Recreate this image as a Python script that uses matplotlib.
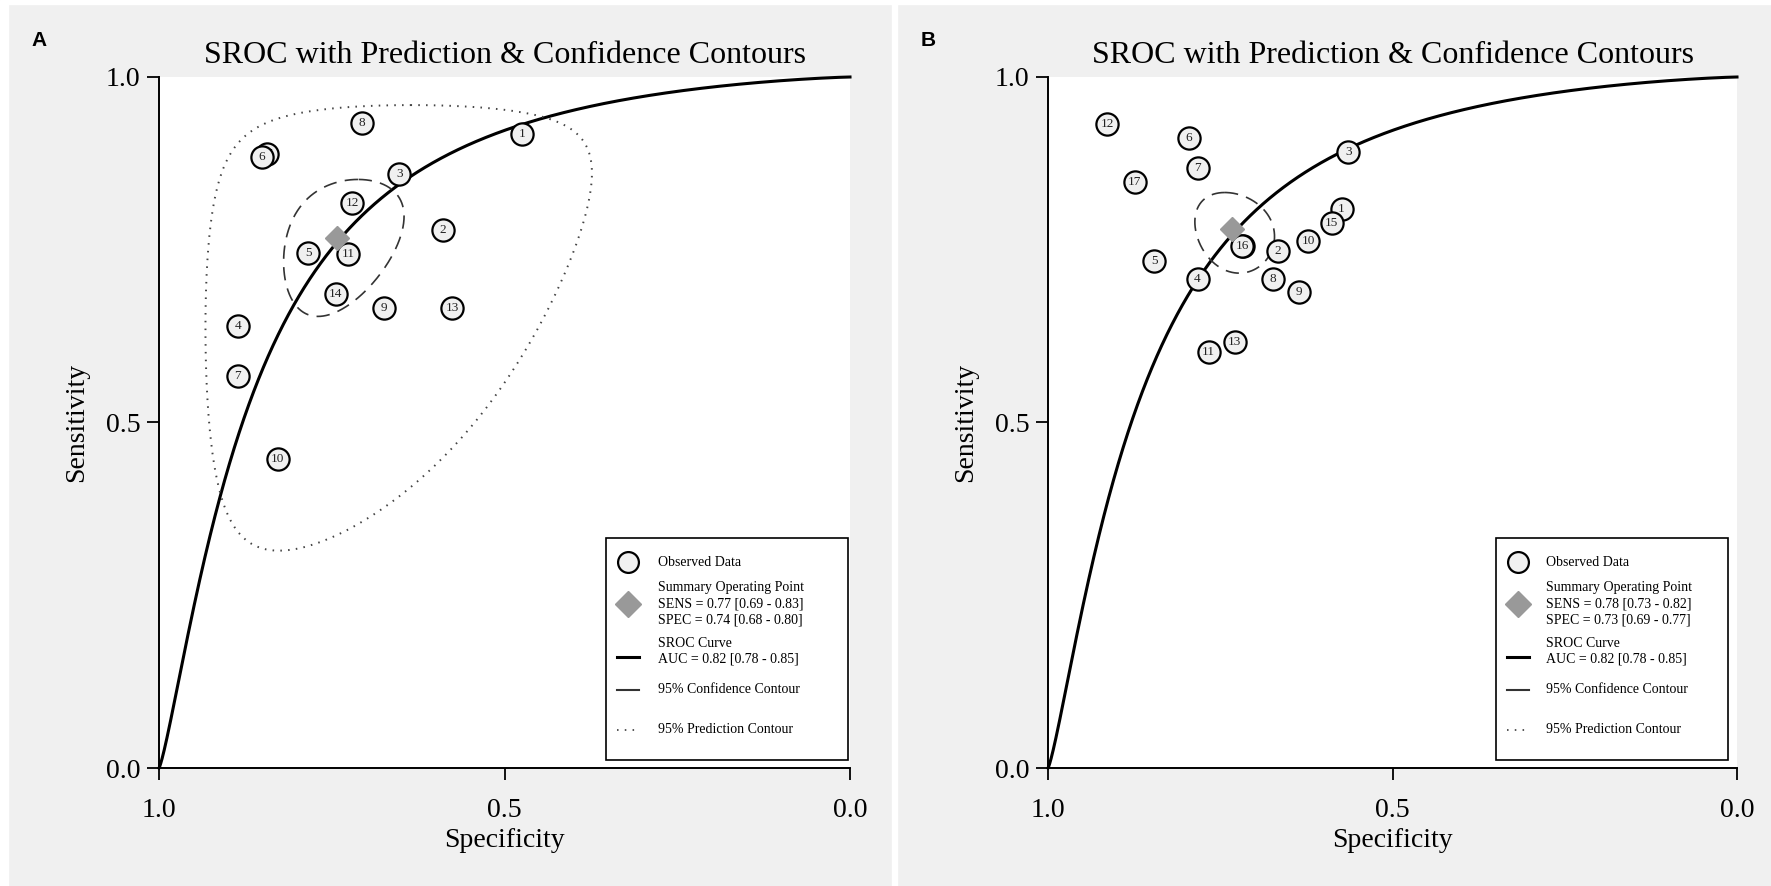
# -*- coding: utf-8 -*-
''' SROC plots with prediction & confidence contours, two panels (A, B) '''
import numpy as np
import matplotlib
matplotlib.use('Agg')
import matplotlib.pyplot as plt
from matplotlib.patches import Rectangle

plt.rcParams['font.family'] = ['Liberation Serif', 'DejaVu Serif']

# ---- panel A : observed studies ----
a_ids = ['15', '1', '2', '3', '4', '5', '6', '7', '8', '9', '10', '11', '12', '13', '14']
a_spec = [0.843, 0.475, 0.589, 0.652, 0.885, 0.784, 0.851, 0.886, 0.706, 0.674, 0.828, 0.726, 0.720, 0.576, 0.744]
a_sens = [0.889, 0.917, 0.778, 0.860, 0.639, 0.745, 0.884, 0.567, 0.934, 0.666, 0.447, 0.744, 0.817, 0.666, 0.686]

# ---- panel B : observed studies ----
b_ids = ['12', '6', '7', '17', '3', '1', '15', '10', '14', '16', '2', '5', '4', '8', '9', '11', '13']
b_spec = [0.914, 0.796, 0.783, 0.874, 0.564, 0.574, 0.588, 0.622, 0.717, 0.718, 0.666, 0.846, 0.783, 0.673, 0.636, 0.767, 0.729]
b_sens = [0.932, 0.912, 0.869, 0.848, 0.891, 0.809, 0.789, 0.762, 0.755, 0.756, 0.748, 0.733, 0.708, 0.707, 0.689, 0.602, 0.617]

# summary operating points (sens, spec)
a_summary = (0.767, 0.742)
b_summary = (0.780, 0.733)

# SROC curve: logit(sens) = alpha + beta * logit(1 - spec)
sroc_alpha = 2.48
sroc_beta = 1.25

# contours in logit space: (sd logit sens, sd logit spec, correlation)
a_conf = (0.2275, 0.187, -0.33)
a_pred = (0.805, 0.643, -0.32)
b_conf = (0.139, 0.121, 0.18)

a_legend = ['Observed Data',
            'Summary Operating Point\nSENS = 0.77 [0.69 - 0.83]\nSPEC = 0.74 [0.68 - 0.80]',
            'SROC Curve\nAUC = 0.82 [0.78 - 0.85]',
            '95% Confidence Contour',
            '95% Prediction Contour']
b_legend = ['Observed Data',
            'Summary Operating Point\nSENS = 0.78 [0.73 - 0.82]\nSPEC = 0.73 [0.69 - 0.77]',
            'SROC Curve\nAUC = 0.82 [0.78 - 0.85]',
            '95% Confidence Contour',
            '95% Prediction Contour']

TITLE = 'SROC with Prediction & Confidence Contours'
CHI2 = np.sqrt(5.991)


def logit(p):
    return np.log(p / (1 - p))


def expit(x):
    return 1 / (1 + np.exp(-x))


def contour(summary, params):
    sd_se, sd_sp, r = params
    t = np.linspace(0, 2 * np.pi, 500)
    lse = logit(summary[0]) + CHI2 * sd_se * np.cos(t)
    lsp = logit(summary[1]) + CHI2 * sd_sp * (r * np.cos(t) + np.sqrt(1 - r * r) * np.sin(t))
    return expit(lsp), expit(lse)


def draw_legend(ax, labels, x0, x1, hx, tx):
    # hand-made legend box, in axes fraction
    tr = ax.transAxes
    ax.add_patch(Rectangle((x0, 0.012), x1 - x0, 0.321, transform=tr, facecolor='white',
                           edgecolor='black', lw=1.2, zorder=200))
    kw = dict(transform=tr, zorder=201, clip_on=False)
    ax.plot([hx], [0.298], 'o', ms=15, mfc='#f0f0f0', mec='black', mew=1.6, **kw)
    ax.plot([hx], [0.238], 'D', ms=13, color='#999999', **kw)
    ax.plot([hx - 0.016, hx + 0.016], [0.160, 0.160], color='black', lw=2.2, **kw)
    ax.plot([hx - 0.016, hx + 0.016], [0.113, 0.113], color='#333333', lw=1.5, **kw)
    ax.plot([hx - 0.016, hx + 0.016], [0.055, 0.055], color='#555555', lw=1.4,
            ls=(0, (0.8, 3.2)), **kw)
    ys = [0.298, 0.238, 0.169, 0.113, 0.055]
    for lab, y in zip(labels, ys):
        ax.text(tx, y, lab, transform=tr, fontsize=10, va='center', ha='left',
                linespacing=1.3, zorder=202)


def draw_panel(ax, ids, spec, sens, summary, conf, pred, labels, box):
    ax.set_facecolor('white')
    # sroc curve
    fpr = np.linspace(1e-5, 1 - 1e-5, 2000)
    curve_sens = expit(sroc_alpha + sroc_beta * logit(fpr))
    ax.plot(1 - fpr, curve_sens, color='black', lw=2.2, zorder=3, clip_on=False)

    # studies
    for k in range(len(ids)):
        ax.plot(spec[k], sens[k], 'o', ms=16, mfc='#f0f0f0', mec='black', mew=1.6,
                zorder=10 + 2 * k)
        ax.text(spec[k], sens[k], ids[k], ha='center', va='center', fontsize=9.5,
                color='#222222', zorder=11 + 2 * k)

    # contours
    cx, cy = contour(summary, conf)
    ax.plot(cx, cy, color='#333333', lw=1.2, ls=(0, (8, 5)), zorder=4)
    if pred is not None:
        px, py = contour(summary, pred)
        ax.plot(px, py, color='#444444', lw=1.4, ls=(0, (0.8, 3.2)), zorder=4)

    # summary point
    ax.plot(summary[1], summary[0], 'D', ms=12, color='#999999', zorder=100)

    ax.set_xlim(1, 0)
    ax.set_ylim(0, 1)
    ax.set_xticks([1.0, 0.5, 0.0])
    ax.set_xticklabels(['1.0', '0.5', '0.0'])
    ax.set_yticks([0.0, 0.5, 1.0])
    ax.set_yticklabels(['0.0', '0.5', '1.0'])
    ax.tick_params(axis='y', direction='out', length=8.5, width=1.3, pad=5, labelsize=20)
    ax.tick_params(axis='x', direction='out', length=8.5, width=1.3, pad=13, labelsize=20)
    for s in ['top', 'right']:
        ax.spines[s].set_visible(False)
    for s in ['left', 'bottom']:
        ax.spines[s].set_linewidth(1.4)
    ax.set_xlabel('Specificity', fontsize=20, labelpad=4)
    ax.set_ylabel('Sensitivity', fontsize=20, labelpad=12)
    ax.set_title(TITLE, fontsize=23, pad=10)

    draw_legend(ax, labels, *box)


fig = plt.figure(figsize=(17.71, 8.86), dpi=100, facecolor='#f0f0f0')
# white borders / divider between panels
fig.patches.append(Rectangle((0, 0), 8 / 1771, 1, transform=fig.transFigure, color='white'))
fig.patches.append(Rectangle((0, 1 - 4 / 886), 1, 4 / 886, transform=fig.transFigure, color='white'))
fig.patches.append(Rectangle((892 / 1771, 0), 5 / 1771, 1, transform=fig.transFigure, color='white'))

ax1 = fig.add_axes([159 / 1771, 118 / 886, 691 / 1771, 691 / 886])
ax2 = fig.add_axes([1048 / 1771, 118 / 886, 689 / 1771, 691 / 886])

draw_panel(ax1, a_ids, a_spec, a_sens, a_summary, a_conf, a_pred, a_legend,
           (0.647, 0.997, 0.679, 0.722))
draw_panel(ax2, b_ids, b_spec, b_sens, b_summary, b_conf, None, b_legend,
           (0.650, 0.987, 0.682, 0.723))

fig.text(31 / 1771, 1 - 40 / 886, 'A', fontsize=15, fontweight='bold',
         family='Liberation Sans', va='center', ha='left')
fig.text(921 / 1771, 1 - 40 / 886, 'B', fontsize=15, fontweight='bold',
         family='Liberation Sans', va='center', ha='left')

fig.savefig('out.png', dpi=100, facecolor=fig.get_facecolor())
